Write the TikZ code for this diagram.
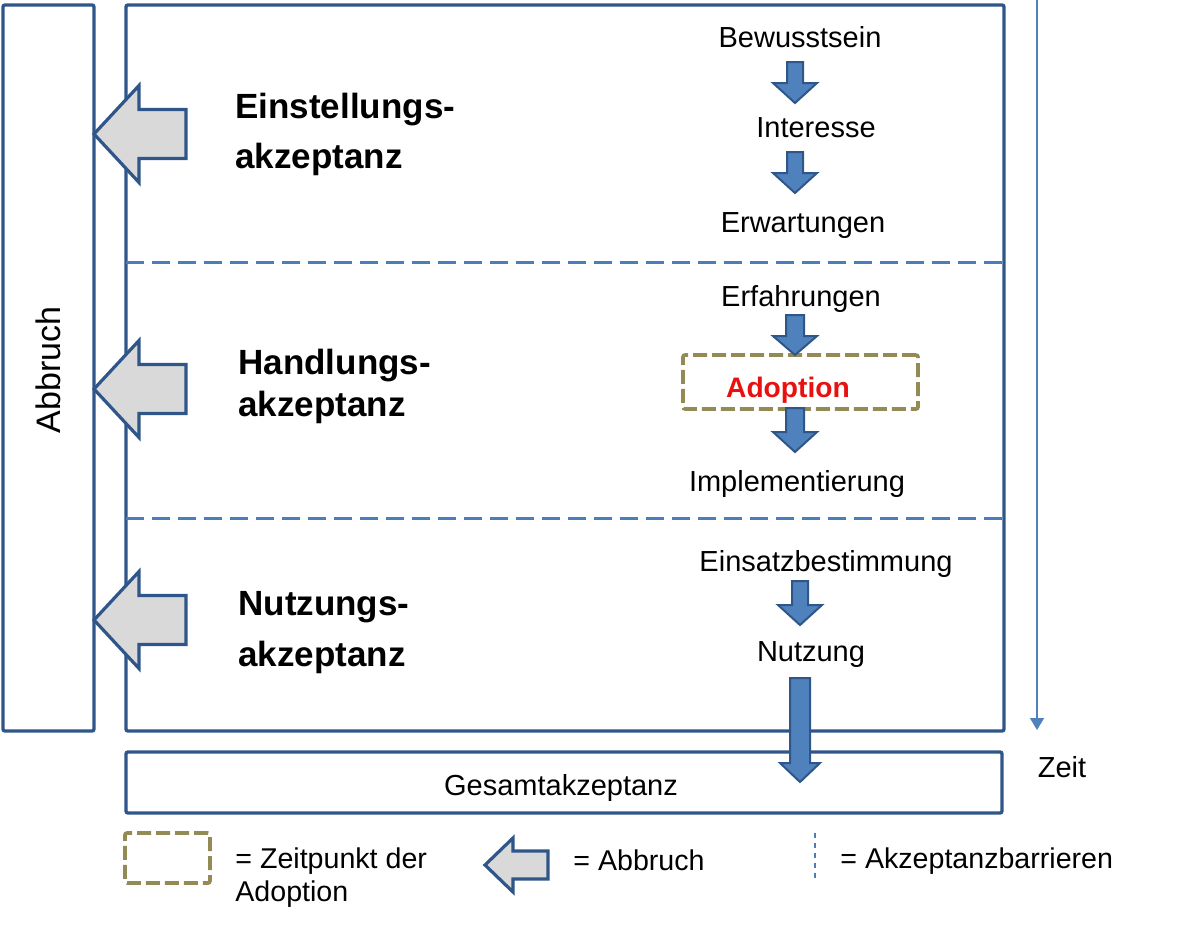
\documentclass[tikz,border=0pt]{standalone}
\usepackage{fontspec}
\setmainfont{Liberation Sans}
\usetikzlibrary{arrows.meta}
\definecolor{bordblue}{HTML}{2F5689}
\definecolor{fillblue}{HTML}{4F81BD}
\definecolor{dashblue}{HTML}{4A7EBB}
\definecolor{olivec}{HTML}{948A54}
\definecolor{greyfill}{HTML}{D9D9D9}
\definecolor{adred}{HTML}{E8110F}
\newcommand\blkdown[6]{%
  \draw[bluearrow] (#1-#4,#2) -- (#1+#4,#2) -- (#1+#4,#3-#6) -- (#1+#5,#3-#6) -- (#1,#3) -- (#1-#5,#3-#6) -- (#1-#4,#3-#6) -- cycle;}
\begin{document}
\begin{tikzpicture}[x=0.5pt,y=-0.5pt,
  box/.style={draw=bordblue, line width=1.7pt, rounded corners=1pt, inner sep=0pt},
  txt/.style={font=\fontsize{14.5}{17}\selectfont, inner sep=0pt, anchor=base},
  lgd/.style={font=\fontsize{14.3}{17}\selectfont, inner sep=0pt, anchor=base west},
  bold/.style={font=\fontsize{17.5}{21}\selectfont\bfseries, inner sep=0pt, anchor=base west},
  barrier/.style={draw=dashblue, line width=1.5pt, dash pattern=on 9pt off 4pt},
  adopt/.style={draw=olivec, line width=1.8pt, dash pattern=on 7pt off 2.5pt, rounded corners=1pt, inner sep=0pt},
  bluearrow/.style={draw=bordblue, fill=fillblue, line width=1pt, line join=miter},
  greyarrow/.style={draw=bordblue, fill=greyfill, line width=1.6pt, line join=miter},
  abbr/.pic={\draw[greyarrow] (0,0) -- (45,-48.5) -- (45,-24.5) -- (92,-24.5) -- (92,24.5) -- (45,24.5) -- (45,48.5) -- cycle;},
  abbrsmall/.pic={\draw[greyarrow] (0,0) -- (28,-27) -- (28,-14) -- (63,-14) -- (63,14) -- (28,14) -- (28,27) -- cycle;}
]
\useasboundingbox (0,0) rectangle (1200,927);

% boxes
\node[box, minimum width=45.5pt, minimum height=363pt] (abbruch) at (48.5,368) {};
\node[font=\fontsize{17}{20}\selectfont, rotate=90, inner sep=0pt] (abbrtxt) at (48.5,370) {Abbruch};
\node[box, minimum width=439pt, minimum height=363pt] (main) at (565,368) {};
\node[box, minimum width=438pt, minimum height=30.5pt] (gesamt) at (564,782.5) {};
\node[txt] (gesamttxt) at (561,795) {Gesamtakzeptanz};

% barriers
\coordinate (b1l) at (126,262); \coordinate (b1r) at (1004,262);
\coordinate (b2l) at (126,518); \coordinate (b2r) at (1004,518);
\draw[barrier] (b1l) -- (b1r);
\draw[barrier] (b2l) -- (b2r);

% time axis
\coordinate (zt) at (1037,0); \coordinate (zb) at (1037,730);
\draw[fillblue, line width=0.75pt, -{Triangle[width=7pt,length=6pt]}] (zt) -- (zb);
\node[txt] (zeit) at (1062,777) {Zeit};

% labels
\node[bold] (e1) at (235,118) {Einstellungs-};
\node[bold] (e2) at (235,168) {akzeptanz};
\node[bold] (h1) at (238,374) {Handlungs-};
\node[bold] (h2) at (238,416) {akzeptanz};
\node[bold] (n1) at (238,615) {Nutzungs-};
\node[bold] (n2) at (238,666) {akzeptanz};

% abort arrows
\pic at (94,134) {abbr};
\pic at (94,389) {abbr};
\pic at (94,620) {abbr};

% stages
\node[txt] (bew) at (800,47) {Bewusstsein};
\node[txt] (int) at (816,137) {Interesse};
\node[txt] (erw) at (803,232) {Erwartungen};
\node[txt] (erf) at (801,306) {Erfahrungen};
\node[adopt, minimum width=117.5pt, minimum height=27pt] (adbox) at (800.5,382) {};
\node[txt, font=\fontsize{14.1}{17}\selectfont\bfseries, text=adred] (adtxt) at (788,397) {Adoption};
\node[txt] (impl) at (797,491) {Implementierung};
\node[txt] (eins) at (826,571) {Einsatzbestimmung};
\node[txt] (nutz) at (811,661) {Nutzung};

\blkdown{795}{62}{103}{8}{22}{20}
\blkdown{795}{152}{193}{8}{22}{20}
\blkdown{795}{315}{355}{9}{22}{19}
\blkdown{795}{408}{452}{9}{22}{20}
\blkdown{800}{581}{625}{8}{22}{20}
\blkdown{800}{678}{782}{10}{20}{19}

% legend
\node[adopt, minimum width=42.5pt, minimum height=25pt] (lbox) at (167.5,858) {};
\node[lgd] (l1) at (235,868) {= Zeitpunkt der};
\node[lgd] (l2) at (235,901) {Adoption};
\pic at (485,865) {abbrsmall};
\node[lgd] (l3) at (573,870) {= Abbruch};
\coordinate (lt) at (815,833); \coordinate (lb) at (815,882);
\draw[dashblue, line width=0.6pt, dash pattern=on 2.5pt off 2.5pt] (lt) -- (lb);
\node[lgd] (l4) at (840,868) {= Akzeptanzbarrieren};
\end{tikzpicture}
\end{document}
